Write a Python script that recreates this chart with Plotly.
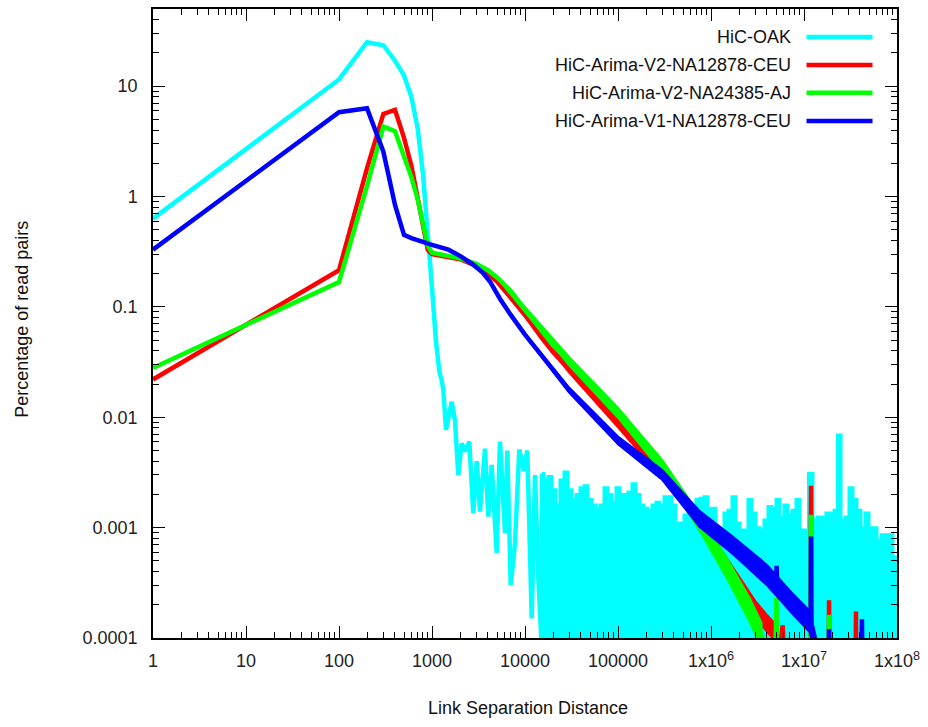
import plotly.graph_objects as go

# ---- series data (link separation distance vs. percentage of read pairs) ----
series_names = ["HiC-OAK", "HiC-Arima-V2-NA12878-CEU",
                "HiC-Arima-V2-NA24385-AJ", "HiC-Arima-V1-NA12878-CEU"]
series_colors = ["#00ffff", "#ff0000", "#00ff00", "#0000ff"]

# HiC-OAK: short-range part (smooth peak, then sparse jagged tail)
oak_x = [1, 100, 200, 300, 400, 500, 600, 700, 800, 900, 1000, 1100, 1200,
         1271, 1324, 1415, 1630, 1767, 1918, 2085, 2264, 2518, 2781, 3025,
         3282, 3715, 4031, 4382, 4963, 5383, 6097, 6456, 7022, 7805, 8681,
         9754, 10590, 11810, 12810, 13910, 15140]
oak_y = [0.63, 11.5, 25, 23.5, 17, 12.5, 8.0, 4.2, 1.6, 0.5, 0.15, 0.05, 0.026,
         0.0217, 0.0176, 0.0077, 0.0138, 0.0094, 0.0030, 0.0058, 0.0049, 0.0060,
         0.00135, 0.0040, 0.0014, 0.0052, 0.00126, 0.0037, 0.00059, 0.0060,
         0.00089, 0.0050, 0.0003, 0.00072, 0.0051, 0.0033, 0.0050, 0.00015,
         0.0030, 0.00036, 0.00008]

# HiC-OAK: long-range part, upper envelope of the dense noisy band
oak_band_x = [15230, 16820, 18570, 20500, 22630, 24990, 27600, 30470, 33650,
              37150, 41020, 45290, 50000, 55210, 60960, 67300, 74310, 82050,
              90590, 1.0e5, 1.104e5, 1.219e5, 1.346e5, 1.486e5, 1.641e5,
              1.812e5, 2.0e5, 2.209e5, 2.439e5, 2.693e5, 2.973e5, 3.283e5,
              3.624e5, 4.002e5, 4.418e5, 4.878e5, 5.386e5, 5.947e5, 6.566e5,
              7.249e5, 8.004e5, 8.837e5, 9.756e5, 1.077e6, 1.189e6, 1.313e6,
              1.45e6, 1.601e6, 1.767e6, 1.951e6, 2.154e6, 2.378e6, 2.626e6,
              2.899e6, 3.2e6, 3.533e6, 3.901e6, 4.307e6, 4.755e6, 5.25e6,
              5.796e6, 6.399e6, 7.065e6, 7.8e6, 8.612e6, 9.508e6, 1.05e7,
              1.19e7, 1.31e7, 1.48e7, 1.64e7, 1.81e7, 2.0e7, 2.21e7, 2.38e7,
              2.63e7, 2.9e7, 3.2e7, 3.53e7, 3.9e7, 4.31e7, 4.75e7, 5.25e7,
              5.8e7, 6.4e7, 7.07e7, 7.8e7, 8.61e7, 9.5e7, 1.0e8]
oak_band_y = [0.0031, 0.0027, 0.0029, 0.0022, 0.0016, 0.0027, 0.0032, 0.0022,
              0.0018, 0.0020, 0.0023, 0.0024, 0.0018, 0.0016, 0.0015, 0.0016,
              0.0023, 0.0020, 0.0017, 0.0023, 0.0020, 0.0020, 0.0021, 0.0025,
              0.0020, 0.0016, 0.0015, 0.00144, 0.0016, 0.0017, 0.0016, 0.0019,
              0.0019, 0.0016, 0.0011, 0.0011, 0.0013, 0.0016, 0.00144, 0.0018,
              0.00185, 0.0019, 0.0015, 0.0015, 0.00095, 0.00095, 0.00136,
              0.00144, 0.0019, 0.0011, 0.00095, 0.00095, 0.0018, 0.00136,
              0.0010, 0.00095, 0.00117, 0.00155, 0.0015, 0.0018, 0.00125,
              0.0016, 0.0013, 0.00144, 0.0018, 0.00095, 0.00095, 0.0031,
              0.00117, 0.00125, 0.00125, 0.00136, 0.00136, 0.00144, 0.0069,
              0.00117, 0.00125, 0.0023, 0.0018, 0.00144, 0.0010, 0.00136,
              0.0010, 0.0010, 0.00077, 0.00086, 0.00086, 0.00086, 0.00054,
              0.00054]

# HiC-Arima-V2-NA12878-CEU
v2ceu_x = [1, 100, 200, 300, 400, 500, 600, 700, 800, 900, 1000, 1500, 2000,
           3000, 4000, 5000, 7000, 1e4, 1.5e4, 2e4, 3e4, 5e4, 7e4, 1e5, 1.5e5,
           2e5, 3e5, 5e5, 7.5e5, 1e6, 1.5e6, 2e6, 3e6, 4e6, 5e6, 5.6e6, 5.9e6,
           6.2e6, 1.17e7, 1.19e7, 1.21e7, 1.84e7, 1.86e7, 1.88e7, 3.6e7,
           3.62e7, 3.64e7]
v2ceu_y = [0.022, 0.215, 1.8, 5.6, 6.1, 3.4, 1.9, 0.95, 0.5, 0.33, 0.30, 0.285,
           0.27, 0.235, 0.2, 0.17, 0.12, 0.085, 0.053, 0.039, 0.027, 0.0175,
           0.0125, 0.0088, 0.0064, 0.0048, 0.0031, 0.0018, 0.00116, 0.00078,
           0.00045, 0.0003, 0.00018, 0.000135, 0.00011, 9e-5, 0.00013, 5e-5,
           5e-5, 0.0024, 5e-5, 5e-5, 0.00022, 5e-5, 5e-5, 0.000174, 5e-5]
# spread of the noisy long-range tail (upper / lower edge)
v2ceu_tail_x = [5000, 1e4, 3e4, 1e5, 3e5, 7.5e5, 1.5e6, 3e6, 4e6, 5e6]
v2ceu_tail_hi = [0.171, 0.0884, 0.0289, 0.0096, 0.0034, 0.0013, 0.00052,
                 0.000216, 0.000162, 0.000132]
v2ceu_tail_lo = [0.169, 0.0817, 0.0252, 0.0081, 0.0028, 0.00104, 0.00039,
                 0.00015, 0.000113, 9.2e-5]

# HiC-Arima-V2-NA24385-AJ
v2aj_x = [1, 100, 200, 300, 400, 500, 600, 700, 800, 900, 1000, 1500, 2000,
          3000, 4000, 5000, 7000, 1e4, 1.5e4, 2e4, 3e4, 5e4, 7e4, 1e5, 1.5e5,
          2e5, 3e5, 5e5, 7.5e5, 1e6, 1.5e6, 2e6, 2.6e6, 3.5e6, 4.2e6, 4.9e6,
          5.05e6, 5.2e6, 1.17e7, 1.19e7, 1.21e7, 1.84e7, 1.86e7, 1.88e7]
v2aj_y = [0.028, 0.168, 1.24, 4.3, 3.9, 2.3, 1.5, 0.95, 0.55, 0.36, 0.31, 0.29,
          0.275, 0.245, 0.215, 0.185, 0.14, 0.095, 0.06, 0.045, 0.032, 0.021,
          0.0155, 0.011, 0.0076, 0.0057, 0.0036, 0.0019, 0.00112, 0.00076,
          0.00042, 0.00027, 0.00018, 0.000105, 7e-5, 5e-5, 0.00023, 5e-5,
          5e-5, 0.00131, 5e-5, 5e-5, 0.000162, 5e-5]
v2aj_tail_x = [5000, 1e4, 3e4, 1e5, 3e5, 7.5e5, 1.5e6, 2.6e6, 3.5e6]
v2aj_tail_hi = [0.186, 0.1, 0.035, 0.0122, 0.0041, 0.00132, 0.00052, 0.00023,
                0.000137]
v2aj_tail_lo = [0.184, 0.09, 0.0294, 0.0099, 0.00319, 0.00095, 0.00034,
                0.00014, 8.1e-5]

# HiC-Arima-V1-NA12878-CEU
v1ceu_x = [1, 100, 200, 300, 400, 500, 600, 700, 800, 1000, 1500, 2000, 2800,
           3500, 4200, 5400, 7000, 1e4, 2e4, 3e4, 5e4, 7e4, 1e5, 1.5e5, 2e5,
           3e5, 5e5, 7.5e5, 1e6, 1.5e6, 2e6, 3e6, 4e6, 5e6, 5.07e6, 5.15e6,
           6e6, 9e6, 1.16e7, 1.18e7, 1.19e7, 1.2e7, 1.3e7, 1.4e7, 1.84e7,
           1.86e7, 1.88e7, 4.15e7, 4.2e7, 4.25e7]
v1ceu_y = [0.33, 5.8, 6.3, 2.55, 0.84, 0.45, 0.42, 0.40, 0.385, 0.365, 0.33,
           0.29, 0.24, 0.205, 0.17, 0.118, 0.085, 0.056, 0.027, 0.0175, 0.0112,
           0.0083, 0.0062, 0.0049, 0.0040, 0.0030, 0.0019, 0.0012, 0.0010,
           0.00074, 0.00062, 0.00046, 0.00037, 0.00031, 0.00045, 0.0003,
           0.00026, 0.00018, 0.00014, 0.00012, 0.00083, 0.00011, 9e-5, 5e-5,
           5e-5, 0.00012, 5e-5, 5e-5, 0.000148, 5e-5]
v1ceu_tail_x = [1e4, 3e4, 1e5, 3e5, 7.5e5, 1.74e6, 4e6, 7.3e6, 1.16e7, 1.35e7]
v1ceu_tail_hi = [0.057, 0.0185, 0.0067, 0.00333, 0.00142, 0.00082, 0.00046,
                 0.00026, 0.000175, 0.0001]
v1ceu_tail_lo = [0.055, 0.0166, 0.0057, 0.0027, 0.00102, 0.00057, 0.0003,
                 0.00017, 0.000112, 6.4e-5]

# axis ticks
x_tick_vals = [1, 10, 100, 1000, 1e4, 1e5, 1e6, 1e7, 1e8]
x_tick_text = ["1", "10", "100", "1000", "10000", "100000",
               "1x10<sup>6</sup>", "1x10<sup>7</sup>", "1x10<sup>8</sup>"]
y_tick_vals = [1e-4, 1e-3, 1e-2, 1e-1, 1, 10]
y_tick_text = ["0.0001", "0.001", "0.01", "0.1", "1", "10"]

FONT = "Liberation Sans, Arial, sans-serif"
LW = 4.5

fig = go.Figure()

# HiC-OAK: dense band first, then its line
fig.add_trace(go.Scatter(x=oak_band_x, y=oak_band_y, mode="lines",
                         line=dict(color=series_colors[0], width=3, shape="hvh"),
                         fill="tozeroy", fillcolor=series_colors[0],
                         showlegend=False, hoverinfo="skip"))
fig.add_trace(go.Scatter(x=oak_x + oak_band_x[:1], y=oak_y + oak_band_y[:1],
                         mode="lines", name=series_names[0],
                         line=dict(color=series_colors[0], width=LW)))

for name, color, xs, ys, tx, thi, tlo in [
        (series_names[1], series_colors[1], v2ceu_x, v2ceu_y,
         v2ceu_tail_x, v2ceu_tail_hi, v2ceu_tail_lo),
        (series_names[2], series_colors[2], v2aj_x, v2aj_y,
         v2aj_tail_x, v2aj_tail_hi, v2aj_tail_lo),
        (series_names[3], series_colors[3], v1ceu_x, v1ceu_y,
         v1ceu_tail_x, v1ceu_tail_hi, v1ceu_tail_lo)]:
    # noise spread of the tail as a filled outline
    fig.add_trace(go.Scatter(x=tx + tx[::-1], y=thi + tlo[::-1], mode="lines",
                             fill="toself", fillcolor=color,
                             line=dict(color=color, width=2),
                             showlegend=False, hoverinfo="skip"))
    fig.add_trace(go.Scatter(x=xs, y=ys, mode="lines", name=name,
                             line=dict(color=color, width=LW)))

# minor tick positions (2..9 in each decade)
x_minor = [m * 10 ** d for d in range(0, 8) for m in range(2, 10)]
y_minor = [m * 10 ** d for d in range(-4, 2) for m in range(2, 10)]

axis_common = dict(type="log", showgrid=False, zeroline=False,
                   showline=True, linecolor="black", linewidth=1.5,
                   mirror="ticks", ticks="inside", ticklen=12,
                   tickcolor="black", tickwidth=1.2,
                   tickfont=dict(family=FONT, size=18, color="#222"))

fig.update_xaxes(**axis_common, range=[0, 8], tickmode="array",
                 tickvals=x_tick_vals, ticktext=x_tick_text,
                 ticklabelstandoff=6,
                 minor=dict(tickmode="array", tickvals=x_minor, ticks="inside",
                            ticklen=6, tickcolor="black", tickwidth=1.2,
                            showgrid=False))
fig.update_yaxes(**axis_common, range=[-4, 1.69897], tickmode="array",
                 tickvals=y_tick_vals, ticktext=y_tick_text,
                 ticklabelstandoff=10,
                 minor=dict(tickmode="array", tickvals=y_minor, ticks="inside",
                            ticklen=6, tickcolor="black", tickwidth=1.2,
                            showgrid=False))

# legend drawn gnuplot-style: label on the left, line sample on the right
legend_rows = [0.9556, 0.9108, 0.8669, 0.822]
for name, color, yy in zip(series_names, series_colors, legend_rows):
    fig.add_annotation(x=0.8597, y=yy, xref="paper", yref="paper", text=name,
                       showarrow=False, xanchor="right", yanchor="middle",
                       font=dict(family=FONT, size=18, color="#111"))
    fig.add_shape(type="line", xref="paper", yref="paper",
                  x0=0.8784, x1=0.9671, y0=yy, y1=yy,
                  line=dict(color=color, width=LW))

# axis titles
fig.add_annotation(x=0.5037, y=-0.111, xref="paper", yref="paper",
                   text="Link Separation Distance", showarrow=False,
                   xanchor="center", yanchor="middle",
                   font=dict(family=FONT, size=18, color="#111"))
fig.add_annotation(x=-0.1764, y=0.507, xref="paper", yref="paper",
                   text="Percentage of read pairs", showarrow=False,
                   textangle=-90, xanchor="center", yanchor="middle",
                   font=dict(family=FONT, size=18, color="#111"))

fig.update_layout(width=928, height=727, showlegend=False,
                  margin=dict(l=153, r=30.5, t=7, b=89),
                  paper_bgcolor="white", plot_bgcolor="white")

fig.write_html("out.html")
